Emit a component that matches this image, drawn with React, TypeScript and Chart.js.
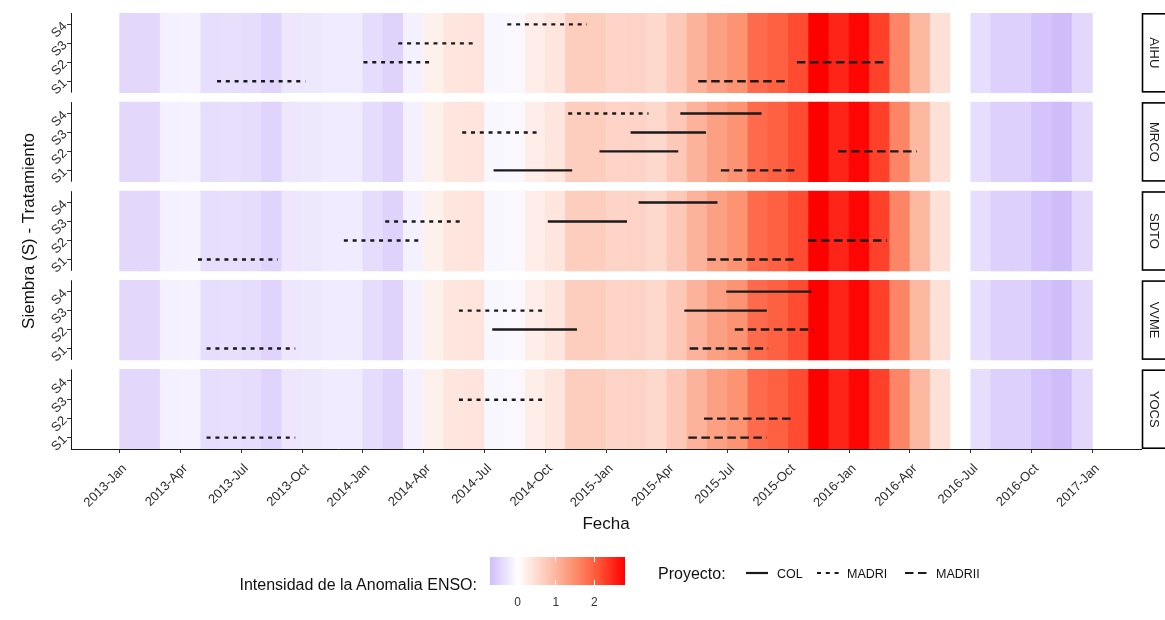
import React, { useEffect, useRef } from "react";
import { Chart, registerables } from "chart.js";

Chart.register(...registerables);

// Monthly ENSO anomaly (°C), January to December of each year
const ENSO_2013 = [-0.42, -0.42, -0.16, -0.15, -0.36, -0.35, -0.38, -0.47, -0.27, -0.25, -0.22, -0.22];
const ENSO_2014 = [-0.38, -0.48, -0.16, 0.2, 0.35, 0.38, -0.1, -0.08, 0.25, 0.35, 0.7, 0.7];
const ENSO_2015 = [0.6, 0.62, 0.55, 0.76, 1.04, 1.27, 1.43, 1.87, 1.98, 2.18, 2.8, 2.5];
const ENSO_2016 = [2.75, 2.27, 1.58, 0.97, 0.43, 0.0, -0.36, -0.51, -0.51, -0.64, -0.72, -0.42];
const ENSO = [...ENSO_2013, ...ENSO_2014, ...ENSO_2015, ...ENSO_2016];
const FIRST_YEAR = 2013;

const SITES = ["AIHU", "MRCO", "SDTO", "VVME", "YOCS"];
const SOWINGS = ["S1", "S2", "S3", "S4"];
const PROJECTS = ["COL", "MADRI", "MADRII"];

const X_TICK_LABELS = [
  "2013-Jan", "2013-Apr", "2013-Jul", "2013-Oct",
  "2014-Jan", "2014-Apr", "2014-Jul", "2014-Oct",
  "2015-Jan", "2015-Apr", "2015-Jul", "2015-Oct",
  "2016-Jan", "2016-Apr", "2016-Jul", "2016-Oct",
  "2017-Jan",
];
const LEGEND_TICKS = [0, 1, 2];

// Sowing windows per site: [sowing, project, start, end]
const SEG_AIHU = [
  ["S1", "MADRI", "2013-05-26", "2013-10-06"],
  ["S1", "MADRII", "2015-05-18", "2015-09-28"],
  ["S2", "MADRI", "2014-01-02", "2014-04-16"],
  ["S2", "MADRII", "2015-10-14", "2016-02-21"],
  ["S3", "MADRI", "2014-02-22", "2014-06-17"],
  ["S4", "MADRI", "2014-08-05", "2014-12-03"],
];
const SEG_MRCO = [
  ["S1", "COL", "2014-07-15", "2014-11-11"],
  ["S1", "MADRII", "2015-06-21", "2015-10-14"],
  ["S2", "COL", "2014-12-22", "2015-04-18"],
  ["S2", "MADRII", "2015-12-15", "2016-04-11"],
  ["S3", "MADRI", "2014-05-29", "2014-09-25"],
  ["S3", "COL", "2015-02-07", "2015-05-30"],
  ["S4", "MADRI", "2014-11-05", "2015-03-04"],
  ["S4", "COL", "2015-04-21", "2015-08-22"],
];
const SEG_SDTO = [
  ["S1", "MADRI", "2013-04-27", "2013-08-26"],
  ["S1", "MADRII", "2015-06-01", "2015-10-09"],
  ["S2", "MADRI", "2013-12-03", "2014-03-31"],
  ["S2", "MADRII", "2015-10-31", "2016-02-26"],
  ["S3", "MADRI", "2014-02-04", "2014-06-01"],
  ["S3", "COL", "2014-10-05", "2015-02-02"],
  ["S4", "COL", "2015-02-18", "2015-06-16"],
];
const SEG_VVME = [
  ["S1", "MADRI", "2013-05-10", "2013-09-21"],
  ["S1", "MADRII", "2015-05-05", "2015-09-01"],
  ["S2", "COL", "2014-07-13", "2014-11-18"],
  ["S2", "MADRII", "2015-07-12", "2015-11-08"],
  ["S3", "MADRI", "2014-05-24", "2014-09-30"],
  ["S3", "COL", "2015-04-27", "2015-08-30"],
  ["S4", "COL", "2015-06-29", "2015-11-05"],
];
const SEG_YOCS = [
  ["S1", "MADRI", "2013-05-10", "2013-09-21"],
  ["S1", "MADRII", "2015-05-03", "2015-08-30"],
  ["S2", "MADRII", "2015-05-27", "2015-10-05"],
  ["S3", "MADRI", "2014-05-24", "2014-10-01"],
];
const SEGMENTS_BY_SITE = [SEG_AIHU, SEG_MRCO, SEG_SDTO, SEG_VVME, SEG_YOCS];

// ---- styling ----
const FONT = '"Liberation Sans", Arial, Helvetica, sans-serif';
const LINE_COLOR = "#1a1a1a";
const TEXT_COLOR = "#111111";
const TICK_TEXT = "#2e2e2e";
const DASHES: Record<string, number[]> = { COL: [], MADRI: [4, 4.8], MADRII: [8.5, 4.5] };

// diverging fill: lavender below zero, white at zero, red above
const STOP_V = [-0.75, 0, 0.7, 1.4, 2.1, 2.8];
const STOP_C = [
  [205, 186, 250],
  [255, 255, 255],
  [253, 205, 190],
  [252, 150, 118],
  [255, 85, 55],
  [255, 0, 0],
];
function ensoColor(v: number): string {
  if (v <= STOP_V[0]) return `rgb(${STOP_C[0].join(",")})`;
  for (let i = 1; i < STOP_V.length; i++) {
    if (v <= STOP_V[i]) {
      const t = (v - STOP_V[i - 1]) / (STOP_V[i] - STOP_V[i - 1]);
      const a = STOP_C[i - 1], b = STOP_C[i];
      const c = a.map((ch, k) => Math.round(ch + (b[k] - ch) * t));
      return `rgb(${c.join(",")})`;
    }
  }
  return `rgb(${STOP_C[STOP_C.length - 1].join(",")})`;
}

// x in months since Jan of FIRST_YEAR
function monthPos(d: string): number {
  const [y, m, day] = d.split("-").map(Number);
  const dim = new Date(Date.UTC(y, m, 0)).getUTCDate();
  return (y - FIRST_YEAR) * 12 + (m - 1) + (day - 1) / dim;
}

// facet geometry on one shared y scale (S1..S4 per panel, 0.6 expansion)
const PANEL_SPAN = 4.2;
const PANEL_GAP = 0.5;
const panelOffset = (i: number) => (SITES.length - 1 - i) * (PANEL_SPAN + PANEL_GAP);
const panelLo = (i: number) => panelOffset(i) + 0.4;
const panelHi = (i: number) => panelOffset(i) + 0.4 + PANEL_SPAN;

const N_MONTHS = ENSO.length;
const X_PAD = N_MONTHS * 0.05;

const Y_TICKS: { value: number; label: string }[] = [];
SITES.forEach((_, i) => SOWINGS.forEach((s, j) => Y_TICKS.push({ value: panelOffset(i) + j + 1, label: s })));

const panelPlugin = {
  id: "panelFrame",
  afterDraw(chart: any) {
    const { ctx, chartArea, scales } = chart;
    const y = scales.y;
    ctx.save();
    SITES.forEach((site, i) => {
      const top = y.getPixelForValue(panelHi(i));
      const bottom = y.getPixelForValue(panelLo(i));
      // per-panel y axis line
      ctx.strokeStyle = "#1a1a1a";
      ctx.lineWidth = 1;
      ctx.beginPath();
      ctx.moveTo(chartArea.left + 0.5, top);
      ctx.lineTo(chartArea.left + 0.5, bottom);
      ctx.stroke();
      // facet strip
      const sx = chartArea.right + 1.5;
      ctx.fillStyle = "#ffffff";
      ctx.fillRect(sx, top, 40, bottom - top);
      ctx.strokeStyle = "#000000";
      ctx.lineWidth = 1.6;
      ctx.strokeRect(sx, top + 0.8, 40, bottom - top - 1.6);
      ctx.save();
      ctx.translate(sx + 11.5, (top + bottom) / 2);
      ctx.rotate(Math.PI / 2);
      ctx.fillStyle = "#1a1a1a";
      ctx.font = `13px ${FONT}`;
      ctx.textAlign = "center";
      ctx.textBaseline = "middle";
      ctx.fillText(site, 0, 0);
      ctx.restore();
    });
    ctx.restore();
  },
};

function LineKey({ project }: { project: string }) {
  return (
    <svg width={22} height={10} style={{ display: "block" }}>
      <line x1={0} y1={5} x2={22} y2={5} stroke={LINE_COLOR} strokeWidth={2.2}
        strokeDasharray={DASHES[project].length ? DASHES[project].join(" ") : undefined} />
    </svg>
  );
}

export default function App() {
  const canvasRef = useRef<HTMLCanvasElement | null>(null);

  useEffect(() => {
    const canvas = canvasRef.current;
    if (!canvas) return;

    const datasets: any[] = [];
    SITES.forEach((_, i) => {
      datasets.push({
        type: "bar",
        data: ENSO.map((_v, k) => ({ x: k + 0.5, y: [panelLo(i), panelHi(i)] })),
        backgroundColor: ENSO.map(ensoColor),
        borderWidth: 0,
        barPercentage: 1,
        categoryPercentage: 1,
        grouped: false,
        order: 2,
      });
    });
    SEGMENTS_BY_SITE.forEach((segs, i) => {
      segs.forEach(([sow, project, start, end]) => {
        const yv = panelOffset(i) + SOWINGS.indexOf(sow) + 1;
        datasets.push({
          type: "line",
          label: project,
          data: [{ x: monthPos(start), y: yv }, { x: monthPos(end), y: yv }],
          borderColor: LINE_COLOR,
          borderWidth: 2.4,
          borderDash: DASHES[project],
          borderCapStyle: "butt",
          pointRadius: 0,
          fill: false,
          order: 1,
        });
      });
    });

    const chart = new Chart(canvas, {
      type: "bar",
      data: { datasets },
      plugins: [panelPlugin],
      options: {
        responsive: false,
        animation: false,
        events: [],
        layout: { padding: { top: 13, right: 24, left: 0, bottom: 0 } },
        plugins: { legend: { display: false }, tooltip: { enabled: false } },
        scales: {
          x: {
            type: "linear",
            bounds: "data",
            min: -X_PAD,
            max: N_MONTHS + X_PAD,
            offset: false,
            afterBuildTicks: (s: any) => {
              s.ticks = X_TICK_LABELS.map((_, i) => ({ value: i * 3 }));
            },
            afterFit: (s: any) => {
              s.height = 171;
            },
            ticks: {
              autoSkip: false,
              minRotation: 45,
              maxRotation: 45,
              padding: 8,
              labelOffset: 5,
              color: TICK_TEXT,
              font: { family: FONT, size: 13 },
              callback: (v: any) => X_TICK_LABELS[Math.round(Number(v) / 3)],
            },
            grid: { offset: false, drawOnChartArea: false, drawTicks: true, tickLength: 4, tickColor: "#333333" },
            border: { display: true, color: "#1a1a1a", width: 1 },
            title: {
              display: true,
              text: "Fecha",
              color: TEXT_COLOR,
              font: { family: FONT, size: 17 },
              padding: { top: 0, bottom: 85 },
            },
          },
          y: {
            type: "linear",
            bounds: "data",
            min: panelLo(SITES.length - 1),
            max: panelHi(0),
            afterBuildTicks: (s: any) => {
              s.ticks = Y_TICKS.map((t) => ({ value: t.value }));
            },
            afterFit: (s: any) => {
              s.width = 71;
            },
            ticks: {
              autoSkip: false,
              minRotation: 45,
              maxRotation: 45,
              padding: 2,
              color: TICK_TEXT,
              font: { family: FONT, size: 13 },
              callback: (_v: any, idx: number) => Y_TICKS[idx]?.label ?? "",
            },
            grid: { offset: false, drawOnChartArea: false, drawTicks: true, tickLength: 4, tickColor: "#333333" },
            border: { display: false },
            title: {
              display: true,
              text: "Siembra (S) - Tratamiento",
              color: TEXT_COLOR,
              font: { family: FONT, size: 17 },
              padding: { top: 19, bottom: 0 },
            },
          },
        },
      } as any,
    });
    return () => chart.destroy();
  }, []);

  // colour bar spans the data range
  const vMin = Math.min(...ENSO);
  const vMax = Math.max(...ENSO);
  const barLeft = 490, barWidth = 135, barTop = 557, barHeight = 28;
  const barX = (v: number) => barLeft + ((v - vMin) / (vMax - vMin)) * barWidth;
  const gradStops: string[] = [];
  for (let k = 0; k <= 40; k++) {
    const v = vMin + ((vMax - vMin) * k) / 40;
    gradStops.push(`${ensoColor(v)} ${(k / 40) * 100}%`);
  }

  const keyPos: Record<string, { line: number; text: number }> = {
    COL: { line: 746, text: 777 },
    MADRI: { line: 817, text: 847 },
    MADRII: { line: 905, text: 936 },
  };

  return (
    <div style={{ position: "fixed", left: 0, top: 0, width: 1165, height: 620, background: "#ffffff", fontFamily: FONT, overflow: "hidden" }}>
      <canvas ref={canvasRef} width={1165} height={620} style={{ position: "absolute", left: 0, top: 0 }} />

      <div style={{ position: "absolute", left: 0, width: 477, top: 576, textAlign: "right", fontSize: 16, lineHeight: "18px", color: TEXT_COLOR }}>
        Intensidad de la Anomalia ENSO:
      </div>
      <div style={{ position: "absolute", left: barLeft, top: barTop, width: barWidth, height: barHeight, background: `linear-gradient(to right, ${gradStops.join(", ")})` }} />
      {LEGEND_TICKS.map((t) => (
        <React.Fragment key={t}>
          <div style={{ position: "absolute", left: barX(t) - 0.5, top: barTop, width: 1, height: 5, background: "#ffffff" }} />
          <div style={{ position: "absolute", left: barX(t) - 0.5, top: barTop + barHeight - 5, width: 1, height: 5, background: "#ffffff" }} />
          <div style={{ position: "absolute", left: barX(t) - 10, width: 20, top: 595, textAlign: "center", fontSize: 12, lineHeight: "14px", color: "#333333" }}>
            {t}
          </div>
        </React.Fragment>
      ))}

      <div style={{ position: "absolute", left: 658, top: 565, fontSize: 16, lineHeight: "18px", color: TEXT_COLOR }}>Proyecto:</div>
      {PROJECTS.map((p) => (
        <React.Fragment key={p}>
          <div style={{ position: "absolute", left: keyPos[p].line, top: 568 }}>
            <LineKey project={p} />
          </div>
          <div style={{ position: "absolute", left: keyPos[p].text, top: 566, fontSize: 12.5, lineHeight: "16px", color: TEXT_COLOR }}>{p}</div>
        </React.Fragment>
      ))}
    </div>
  );
}
